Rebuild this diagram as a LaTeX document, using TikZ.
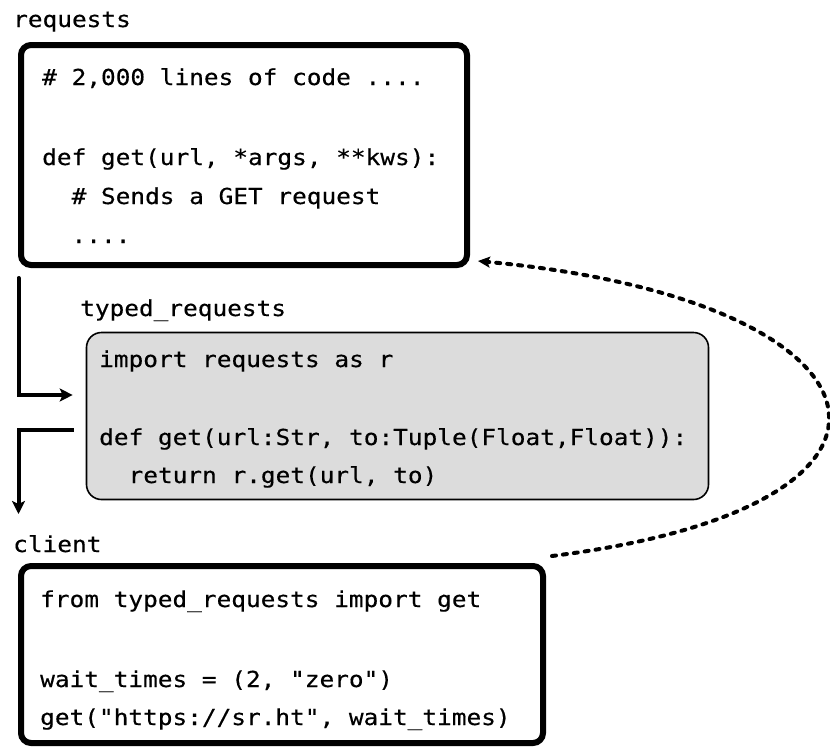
\documentclass[tikz,border=0pt]{standalone}
\usepackage{fontspec}
\setmonofont[FakeStretch=1.11,FakeBold=0.35]{DejaVu Sans Mono}
\usetikzlibrary{arrows.meta}
\definecolor{boxgray}{RGB}{220,220,220}
\tikzset{
  codefont/.style={font=\fontsize{22}{26}\ttfamily},
  codeline/.style={codefont, anchor=base west, inner sep=0pt},
  heavybox/.style={draw, line width=6pt, rounded corners=10pt, minimum width=#1, inner sep=0pt},
  graybox/.style={draw, fill=boxgray, line width=1.6pt, rounded corners=15pt, inner sep=0pt},
  flow/.style={line width=4pt, -{Stealth[length=13pt,width=13pt,inset=3pt]}},
  importflow/.style={line width=4pt, line cap=round, dash pattern=on 4pt off 7pt,
     -{Stealth[length=12pt,width=11pt,inset=2.5pt]}},
}
\begin{document}
\begin{tikzpicture}[x=1pt,y=-1pt]
\useasboundingbox (0,0) rectangle (830,747);
\fill[white] (0,0) rectangle (830,747);

% boxes
\node[heavybox=446pt, minimum height=220pt] (req) at (244,155) {};
\node[graybox, minimum width=622pt, minimum height=167pt] (typed) at (397.5,416) {};
\node[heavybox=522pt, minimum height=177pt] (client) at (282,654.5) {};

% labels
\node[codeline] (reqlabel) at (13,27) {requests};
\node[codeline] (typedlabel) at (80,316) {typed\_requests};
\node[codeline] (clientlabel) at (13,552) {client};

% requests code
\node[codeline] (r1) at (42,85) {\# 2,000 lines of code ....};
\node[codeline] (r2) at (42,165) {def get(url, *args, **kws):};
\node[codeline] (r3) at (71.4,204) {\# Sends a GET request};
\node[codeline] (r4) at (71.4,243) {....};

% typed_requests code
\node[codeline] (t1) at (99,367) {import requests as r};
\node[codeline] (t2) at (99,445) {def get(url:Str, to:Tuple(Float,Float)):};
\node[codeline] (t3) at (128.4,483) {return r.get(url, to)};

% client code
\node[codeline] (c1) at (40,607) {from typed\_requests import get};
\node[codeline] (c2) at (40,687) {wait\_times = (2, "zero")};
\node[codeline] (c3) at (40,725) {get("https://sr.ht", wait\_times)};

% connectors
\draw[flow, line cap=round] ([xshift=0.5pt,yshift=-10pt]req.south west) |- ([xshift=-13pt,yshift=21pt]typed.west);
\draw[flow] ([xshift=-12pt,yshift=-14pt]typed.west) -| ([xshift=0.5pt,yshift=49pt]client.north west);
\draw[importflow] ([xshift=6pt,yshift=7pt]client.north east)
   .. controls (960,505) and (900,300) .. ([xshift=8pt,yshift=7pt]req.south east);
\end{tikzpicture}
\end{document}
